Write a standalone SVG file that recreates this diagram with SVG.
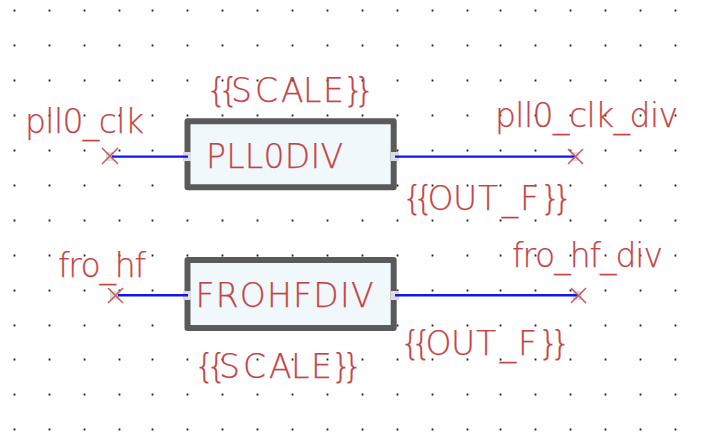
<svg xmlns="http://www.w3.org/2000/svg" xmlns:xlink="http://www.w3.org/1999/xlink" width="707" height="433" viewBox="0 0 707 433">
<style>
text{font-family:"DejaVu Sans","Liberation Sans",sans-serif;font-weight:200;font-size:33px;font-kerning:none;fill:#c44444;stroke:#c44444;stroke-width:.25}
.b{fill:#f0f8fc;stroke:#5a5a5a;stroke-width:6;stroke-linejoin:round}
.w{stroke:#1414f0;stroke-width:2.4;fill:none}
.x{stroke:#c85a5a;stroke-width:1.5;fill:none}
.p{fill:#dcdcdc}
</style>
<defs>
<path id="r" fill="#222" d="M13.6 9.6h1.8v1.8h-1.8zM48.6 9.6h1.8v1.8h-1.8zM83.6 9.6h1.8v1.8h-1.8zM118.6 9.6h1.8v1.8h-1.8zM151.6 9.6h1.8v1.8h-1.8zM186.6 9.6h1.8v1.8h-1.8zM221.6 9.6h1.8v1.8h-1.8zM256.6 9.6h1.8v1.8h-1.8zM291.6 9.6h1.8v1.8h-1.8zM326.6 9.6h1.8v1.8h-1.8zM361.6 9.6h1.8v1.8h-1.8zM396.6 9.6h1.8v1.8h-1.8zM431.6 9.6h1.8v1.8h-1.8zM466.6 9.6h1.8v1.8h-1.8zM499.6 9.6h1.8v1.8h-1.8zM534.6 9.6h1.8v1.8h-1.8zM569.6 9.6h1.8v1.8h-1.8zM604.6 9.6h1.8v1.8h-1.8zM639.6 9.6h1.8v1.8h-1.8zM674.6 9.6h1.8v1.8h-1.8z"/>
</defs>
<rect width="707" height="433" fill="#fff"/>
<g id="grid">
<use href="#r"/><use href="#r" y="35"/><use href="#r" y="70"/><use href="#r" y="105"/><use href="#r" y="140"/><use href="#r" y="175"/><use href="#r" y="210"/><use href="#r" y="245"/><use href="#r" y="280"/><use href="#r" y="315"/><use href="#r" y="349"/><use href="#r" y="384"/><use href="#r" y="419"/>
</g>
<g id="pll0div"><rect class="b" x="187.5" y="121.3" width="206.2" height="66"/><rect class="p" x="183" y="152" width="8" height="9"/><rect class="p" x="391" y="152" width="8" height="9"/><text x="206" y="168" textLength="137">PLL0DIV</text></g>
<g id="frohfdiv"><rect class="b" x="187.5" y="260" width="206.2" height="68"/><rect class="p" x="183" y="291" width="8" height="9"/><rect class="p" x="391" y="291" width="8" height="9"/><text x="195.5" y="306.5" textLength="178">FROHFDIV</text></g>
<g id="connectors">
<rect class="p" x="106" y="152" width="8" height="9"/><rect class="p" x="571" y="152" width="8" height="9"/><rect class="p" x="110" y="291" width="9" height="9"/><rect class="p" x="573" y="291" width="9" height="9"/>
<path class="w" d="M112 156.6H188M395 156.6H575M118 295.3H188M395 295.3H578"/>
<path class="x" d="M102 148l16 16M118 148l-16 16M568 149l15 15M583 149l-15 15M108 288l15 15M123 288l-15 15M571 288l15 15M586 288l-15 15"/>
</g>
<text x="206 218 231 255 281 303 323 343 354" y="102">{{SCALE}}</text>
<text x="25" y="133" textLength="119">pll0_clk</text>
<text x="495" y="127" textLength="183">pll0_clk_div</text>
<text x="402 413 427.5 453 478 501.7 520 540 552" y="210">{{OUT_F}}</text>
<text x="58" y="277" textLength="88">fro_hf</text>
<text x="512" y="267" textLength="151">fro_hf_div</text>
<text x="400 411 425.5 451 476 499.7 518 538 550" y="355">{{OUT_F}}</text>
<text x="194 206 219 243 269 291 311 331 342" y="378">{{SCALE}}</text>
</svg>
